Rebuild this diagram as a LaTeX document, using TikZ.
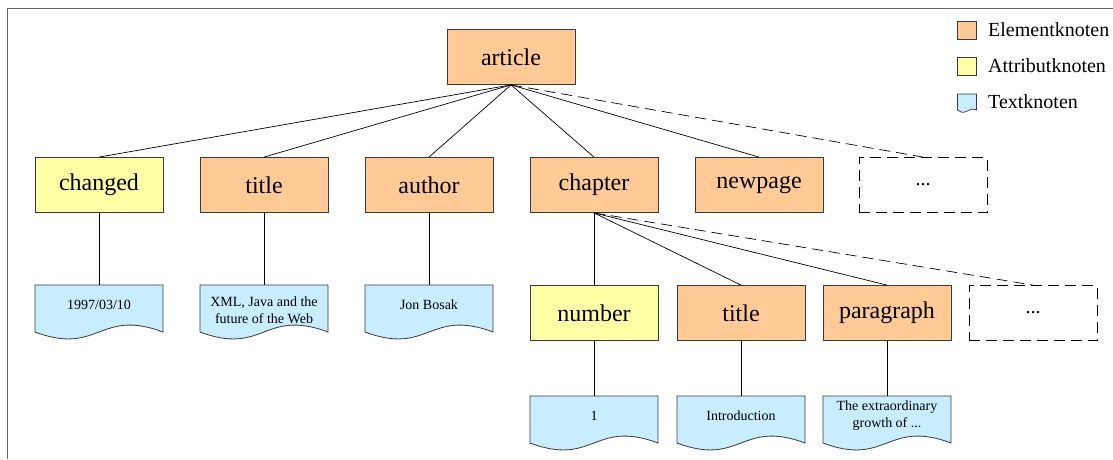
\documentclass[tikz,border=0pt]{standalone}
\usepackage{fontspec}
\setmainfont{Liberation Serif}
\definecolor{elemfill}{HTML}{FFCA96}
\definecolor{attrfill}{HTML}{FFFFA6}
\definecolor{textfill}{HTML}{C7EDFF}
\definecolor{boxline}{HTML}{3A3A3A}
\definecolor{framecol}{HTML}{666666}

\tikzset{
  knot/.style={rectangle, draw=boxline, line width=0.8pt, minimum width=128pt,
    minimum height=55pt, inner sep=0pt, font=\fontsize{24}{28}\selectfont},
  elem/.style={knot, fill=elemfill},
  attr/.style={knot, fill=attrfill},
  more/.style={knot, draw=black, dash pattern=on 11pt off 6pt,
    font=\fontsize{20}{24}\selectfont},
  docshape/.style={fill=textfill, draw=boxline, line width=0.8pt},
  txt/.style={inner sep=0pt, align=center, font=\fontsize{14}{17}\selectfont},
  edge/.style={draw=black, line width=0.7pt},
  dashededge/.style={edge, dash pattern=on 11pt off 6pt},
  legsq/.style={rectangle, draw=boxline, line width=0.7pt, minimum width=19pt,
    minimum height=18pt, inner sep=0pt},
  legtext/.style={anchor=west, inner sep=0pt, font=\fontsize{20}{24}\selectfont},
}

% text node: [text offset]{name}{centre x}{top y}{text}
\newcommand\textknoten[5][20]{%
  \filldraw[docshape] (#3-64,#4) -- (#3+64,#4) -- (#3+64,#4+47)
    .. controls (#3,#4+23) and (#3,#4+71) .. (#3-64,#4+47) -- cycle;
  \node[txt] (#2) at (#3,#4+#1) {#5};
  \coordinate (#2-top) at (#3,#4);
}

\begin{document}
\begin{tikzpicture}[x=1pt,y=-1pt]
  \useasboundingbox (0,0) rectangle (1113,459);
  % frame
  \draw[framecol, line width=1pt] (7,459) -- (7,8) -- (1113,8);

  % root
  \node[elem] (article) at (511,57) {article};

  % first level
  \node[attr] (changed) at (99,185) {changed};
  \node[elem] (title1)  at (264,185) {title};
  \node[elem] (author)  at (429,185) {author};
  \node[elem] (chapter) at (594,185) {chapter};
  \node[elem] (newpage) at (759,185) {newpage};
  \node[more] (more1)   at (923,185) {...};

  \foreach \n in {changed,title1,author,chapter,newpage}
    \draw[edge] (article.south) -- (\n.north);
  \draw[dashededge] (article.south) -- (more1.north);

  % chapter children
  \node[attr] (number)    at (594,313) {number};
  \node[elem] (title2)    at (741,313) {title};
  \node[elem] (paragraph) at (887,313) {paragraph};
  \node[more] (more2)     at (1033,313) {...};

  \foreach \n in {number,title2,paragraph}
    \draw[edge] (chapter.south) -- (\n.north);
  \draw[dashededge] (chapter.south) -- (more2.north);

  % text nodes
  \textknoten{t1}{99}{285}{1997/03/10}
  \textknoten[25]{t2}{264}{285}{XML, Java and the\\future of the Web}
  \textknoten{t3}{429}{285}{Jon Bosak}
  \textknoten{t4}{594}{396}{1}
  \textknoten{t5}{741}{396}{Introduction}
  \textknoten{t6}{887}{396}{The extraordinary\\growth of ...}

  \draw[edge] (changed.south) -- (t1-top);
  \draw[edge] (title1.south)  -- (t2-top);
  \draw[edge] (author.south)  -- (t3-top);
  \draw[edge] (number.south)  -- (t4-top);
  \draw[edge] (title2.south)  -- (t5-top);
  \draw[edge] (paragraph.south) -- (t6-top);

  % legend
  \node[legsq, fill=elemfill] (legelem) at (967,30) {};
  \node[legtext] (legelemtext) at (988,30) {Elementknoten};
  \node[legsq, fill=attrfill] (legattr) at (967,66) {};
  \node[legtext] (legattrtext) at (988,66) {Attributknoten};
  \filldraw[docshape, line width=0.7pt] (957.5,94) -- (976.5,94) -- (976.5,110)
    .. controls (967,106) and (967,117) .. (957.5,110) -- cycle;
  \node[legtext] (legtexttext) at (988,102) {Textknoten};
\end{tikzpicture}
\end{document}
